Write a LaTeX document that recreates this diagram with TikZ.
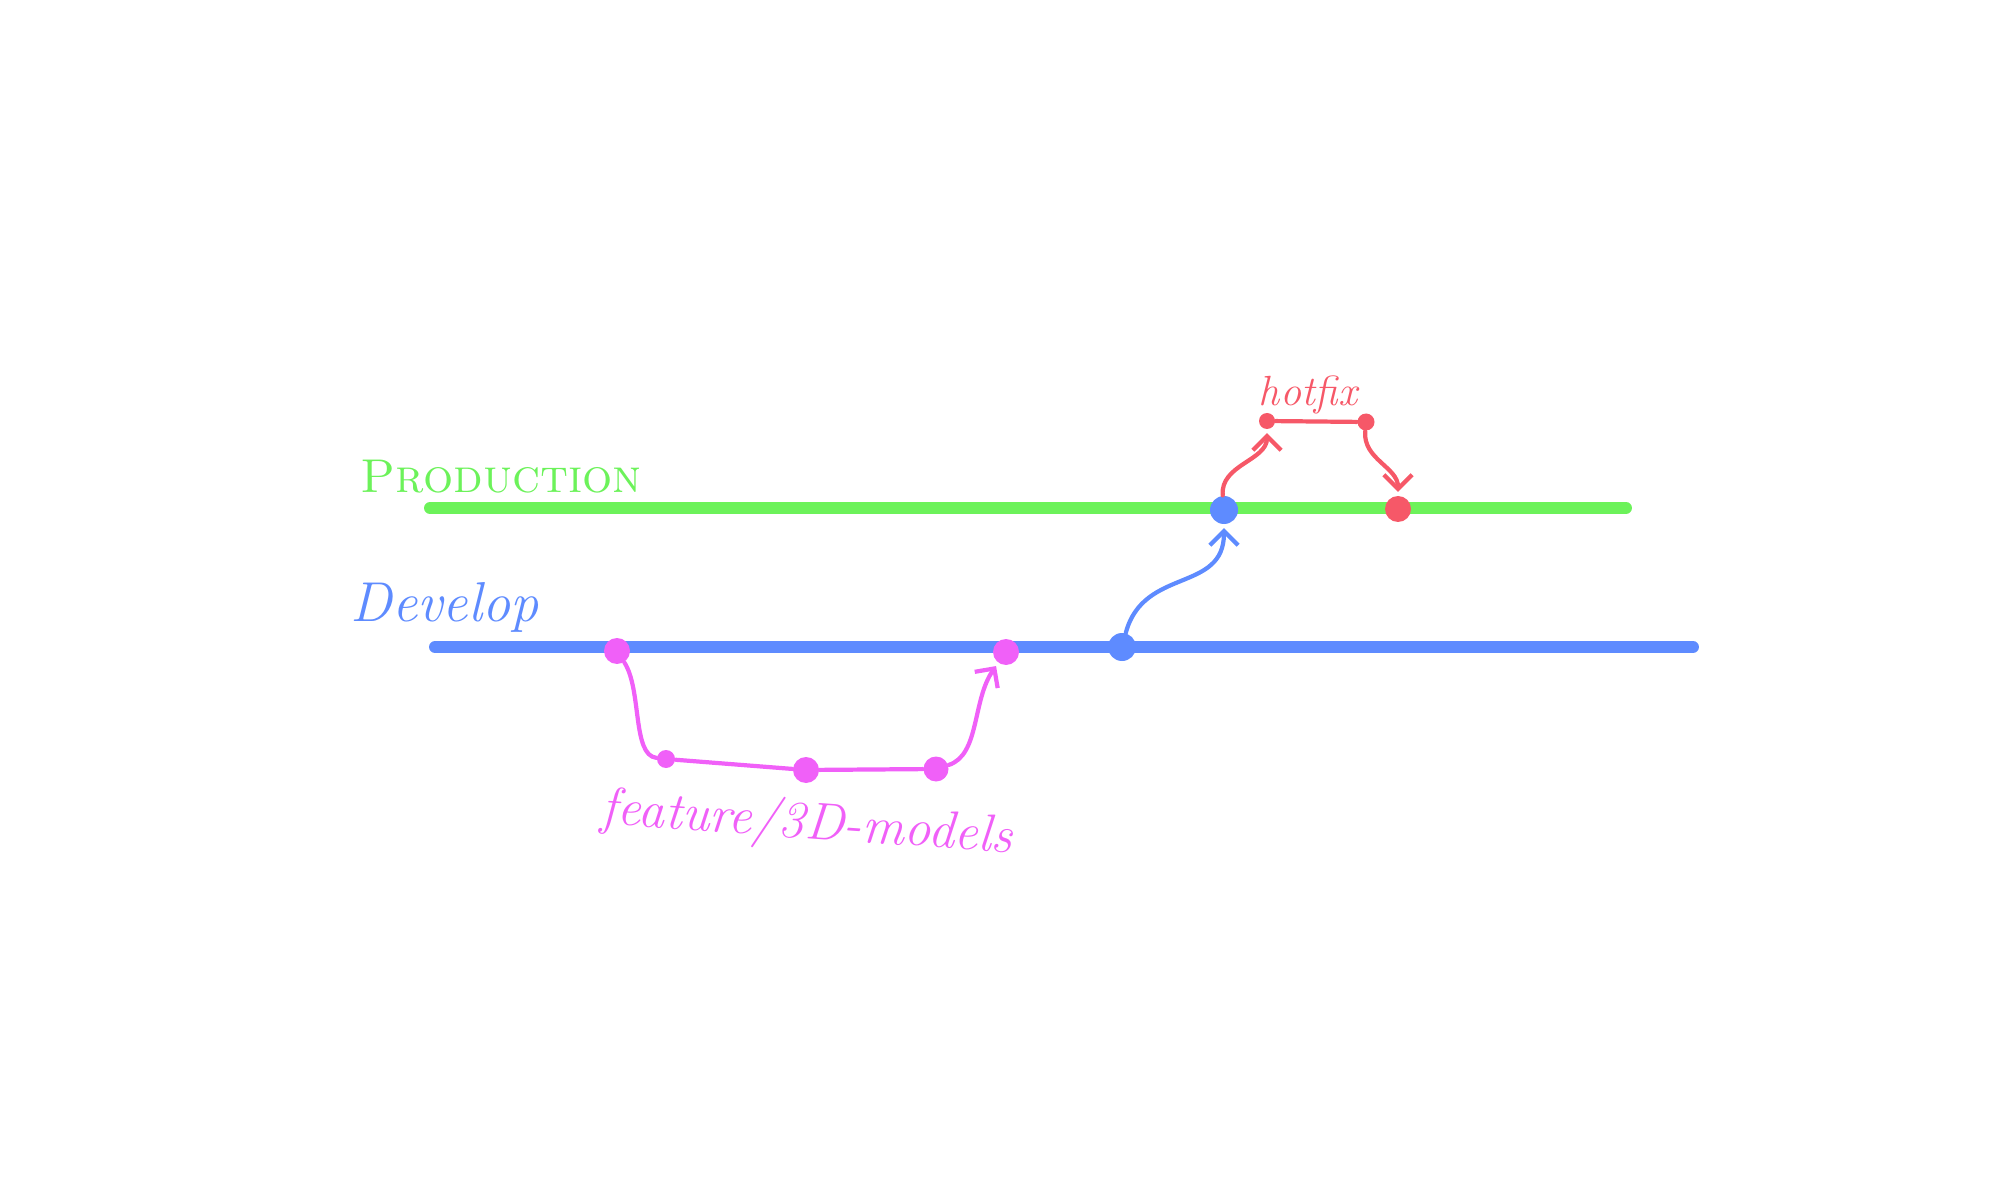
\documentclass[tikz,border=0pt]{standalone}
\usepackage{tikz}
\usetikzlibrary{arrows.meta}
\definecolor{prodgreen}{RGB}{108,242,90}
\definecolor{devblue}{RGB}{94,139,255}
\definecolor{featpink}{RGB}{240,96,248}
\definecolor{fixred}{RGB}{246,88,104}
\tikzset{
  commit/.style={circle,fill=#1,draw=none,inner sep=0pt},
  branch/.style={line width=3.4pt,line cap=round},
  flow/.style={line width=1.2pt,line cap=round},
  barb/.style={-{Straight Barb[length=4pt,width=8pt]},shorten >=1pt},
}

\begin{document}
\begin{tikzpicture}
  \useasboundingbox (0,0) rectangle (20,12);
  % branches
  \coordinate (prodL) at (4.30,6.92);
  \coordinate (prodR) at (16.26,6.92);
  \coordinate (devL) at (4.35,5.53);
  \coordinate (devR) at (16.93,5.53);
  \draw[branch,prodgreen] (prodL) -- (prodR);
  \draw[branch,devblue] (devL) -- (devR);
  \node[text=prodgreen,anchor=base west,inner sep=0pt,font=\fontsize{13.5}{16}\selectfont] (prodLabel) at (3.60,7.08) {\textsc{Production}};
  \node[text=devblue,anchor=base west,inner sep=0pt,font=\fontsize{16}{19}\selectfont\itshape] (devLabel) at (3.50,5.78) {Develop};
  % feature branch
  \node[commit=featpink,minimum size=0.26cm] (feat1) at (6.17,5.49) {};
  \node[commit=featpink,minimum size=0.18cm] (feat2) at (6.66,4.41) {};
  \node[commit=featpink,minimum size=0.26cm] (feat3) at (8.06,4.30) {};
  \node[commit=featpink,minimum size=0.25cm] (feat4) at (9.36,4.31) {};
  \node[commit=featpink,minimum size=0.26cm] (feat5) at (10.06,5.48) {};
  \draw[flow,featpink] (feat1) .. controls (6.42,5.1) and (6.32,4.45) .. (feat2);
  \draw[flow,featpink] (feat2) -- (feat3);
  \draw[flow,featpink] (feat3) -- (feat4);
  \draw[flow,featpink,barb] (feat4) .. controls (9.80,4.45) and (9.72,5.0) .. (feat5);
  \node[text=featpink,rotate=-4,font=\fontsize{15}{18}\selectfont\itshape] (featLabel) at (8.07,3.75) {feature/3D-models};
  % release
  \node[commit=devblue,minimum size=0.28cm] (devMerge) at (11.22,5.53) {};
  \node[commit=devblue,minimum size=0.28cm] (prodMerge) at (12.24,6.90) {};
  \draw[flow,devblue,barb] (devMerge) to[out=75,in=-90,looseness=1.2] (prodMerge);
  % hotfix
  \node[commit=fixred,minimum size=0.16cm] (fix1) at (12.67,7.79) {};
  \node[commit=fixred,minimum size=0.17cm] (fix2) at (13.66,7.78) {};
  \node[commit=fixred,minimum size=0.26cm] (prodFix) at (13.98,6.91) {};
  \draw[flow,fixred,barb] (prodMerge) to[out=95,in=-90] (fix1);
  \draw[flow,fixred] (fix1) -- (fix2);
  \draw[flow,fixred,barb] (fix2) to[out=-95,in=90] (prodFix);
  \node[text=fixred,font=\fontsize{12}{14}\selectfont\itshape] (fixLabel) at (13.08,8.05) {hotfix};
\end{tikzpicture}
\end{document}
